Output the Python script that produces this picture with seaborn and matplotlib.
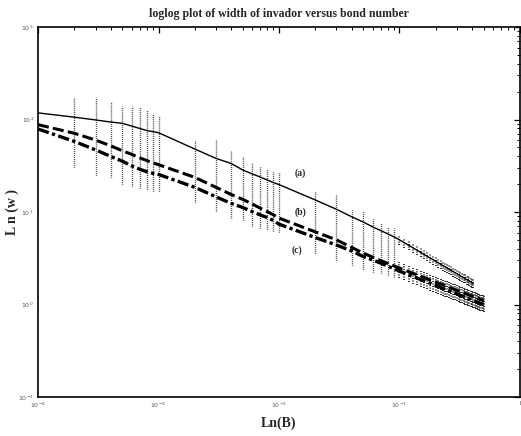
import numpy as np
import pandas as pd
import matplotlib
matplotlib.use('Agg')
import matplotlib.pyplot as plt
import seaborn as sns
from matplotlib.ticker import LogLocator, FixedLocator, FuncFormatter, NullFormatter

sns.set_style('white')
plt.rcParams['font.family'] = ['Liberation Serif', 'DejaVu Serif']

# bond numbers: sparse decades, then dense steps above 0.1
b_sparse = [1e-4, 2e-4, 3e-4, 4e-4, 5e-4, 6e-4, 7e-4, 8e-4, 9e-4,
            1e-3, 2e-3, 3e-3, 4e-3, 5e-3, 6e-3, 7e-3, 8e-3, 9e-3,
            1e-2, 2e-2, 3e-2, 4e-2, 5e-2, 6e-2, 7e-2, 8e-2, 9e-2]
b_dense = [0.10, 0.11, 0.12, 0.13, 0.14, 0.15, 0.16, 0.17, 0.18, 0.19,
           0.20, 0.21, 0.22, 0.23, 0.24, 0.25, 0.26, 0.27, 0.28, 0.29,
           0.30, 0.31, 0.32, 0.33, 0.34, 0.35, 0.36, 0.37, 0.38, 0.39,
           0.40, 0.41, 0.42, 0.43, 0.44, 0.45, 0.46, 0.47, 0.48, 0.49, 0.50]

# mean width of invader, curve (a) solid, (b) dashed, (c) dash-dot
w_a_sparse = [118, 106, 99, 94, 91, 85, 80, 76, 74,
              72, 48, 38, 33.5, 28.5, 25.8, 23.9, 22.2, 20.8,
              19.8, 13.5, 10.7, 8.9, 7.8, 6.9, 6.3, 5.8, 5.4]
w_a_dense = [5.00, 4.65, 4.35, 4.09, 3.86, 3.66, 3.48, 3.32, 3.18, 3.05,
             2.93, 2.82, 2.72, 2.63, 2.55, 2.47, 2.40, 2.33, 2.26, 2.20,
             2.15, 2.09, 2.04, 1.99, 1.95, 1.91, 1.86, 1.83, 1.79, 1.75,
             1.72, 1.69]
w_b_sparse = [88, 71, 60, 52, 46, 42, 38.5, 36, 34,
              32.5, 23.7, 18.5, 15.5, 13.7, 12.2, 11.0, 10.1, 9.3,
              8.6, 6.1, 5.0, 4.15, 3.6, 3.25, 2.98, 2.78, 2.62]
w_b_dense = [2.48, 2.36, 2.26, 2.17, 2.09, 2.02, 1.96, 1.90, 1.84, 1.79,
             1.75, 1.70, 1.67, 1.63, 1.59, 1.56, 1.53, 1.50, 1.47, 1.45,
             1.42, 1.40, 1.38, 1.36, 1.34, 1.32, 1.30, 1.28, 1.26, 1.25,
             1.23, 1.22, 1.20, 1.19, 1.17, 1.16, 1.15, 1.14, 1.12, 1.11, 1.10]
w_c_sparse = [79, 58, 47, 40, 35.5, 31.5, 29, 27.3, 26.2,
              25.5, 18.5, 14.6, 12.4, 11.2, 10.1, 9.3, 8.7, 8.1,
              7.4, 5.3, 4.4, 3.8, 3.3, 3.03, 2.8, 2.6, 2.44]
w_c_dense = [2.30, 2.19, 2.09, 2.01, 1.93, 1.86, 1.80, 1.75, 1.70, 1.65,
             1.61, 1.57, 1.53, 1.49, 1.46, 1.43, 1.40, 1.38, 1.35, 1.33,
             1.30, 1.28, 1.26, 1.24, 1.22, 1.20, 1.19, 1.17, 1.15, 1.14,
             1.12, 1.11, 1.09, 1.08, 1.07, 1.06, 1.04, 1.03, 1.02, 1.01, 1.00]

# spread of the individual runs (sparse region, from 2e-4 to 9e-2)
spread_hi = [171, 176, 156, 141, 141, 137, 127, 117,
             110, 60, 62, 46, 39, 35, 31.5, 28.5, 27,
             27, 16.6, 15.3, 10.5, 10.1, 8.5, 7.6, 6.9, 6.7]
spread_lo = [31, 25, 23.7, 20, 19, 18, 17.6, 17,
             16.8, 12.8, 10.3, 8.6, 8.2, 7.0, 6.7, 6.5, 6.2,
             6.1, 3.6, 3.0, 2.67, 2.45, 2.26, 2.17, 2.08, 2.0]

labels = ['(a)', '(b)', '(c)']
label_x = [0.0151, 0.0151, 0.0141]
label_y = [26.2, 10.07, 3.88]

b_all = b_sparse + b_dense
df_a = pd.DataFrame({'B': b_all[:len(w_a_sparse) + len(w_a_dense)], 'w': w_a_sparse + w_a_dense})
df_b = pd.DataFrame({'B': b_all, 'w': w_b_sparse + w_b_dense})
df_c = pd.DataFrame({'B': b_all, 'w': w_c_sparse + w_c_dense})

fig = plt.figure(figsize=(5.21, 4.36), dpi=100)
ax = fig.add_axes([0.073, 0.0894, 0.925, 0.8486])
ax.set_xscale('log')
ax.set_yscale('log')

# scattered runs as dotted vertical streaks
dot = (0, (0.5, 0.9))
ax.vlines(b_sparse[1:], spread_lo, spread_hi, colors='k', linewidth=1.0, linestyles=dot)
ax.vlines(b_dense[:len(w_a_dense)], np.array(w_a_dense) / 1.13, np.array(w_a_dense) * 1.13,
          colors='k', linewidth=1.3, linestyles=dot)
ax.vlines(b_dense, np.array(w_c_dense) / 1.2, np.array(w_b_dense) * 1.15,
          colors='k', linewidth=1.3, linestyles=dot)

sns.lineplot(df_a, x='B', y='w', ax=ax, color='k', linewidth=1.0)
sns.lineplot(df_b, x='B', y='w', ax=ax, color='k', linewidth=2.2)
ax.lines[-1].set_dashes((3.6, 1.4))
sns.lineplot(df_c, x='B', y='w', ax=ax, color='k', linewidth=2.4)
ax.lines[-1].set_dashes((3.4, 1.0, 1.0, 1.0))

for t, x, y in zip(labels, label_x, label_y):
    ax.text(x, y, t, fontsize=7, fontweight='bold', ha='center', va='center')

ax.set_xlim(1e-4, 1)
ax.set_ylim(1e-1, 1e3)
ax.xaxis.set_major_locator(FixedLocator([1e-4, 1e-3, 1e-2, 1e-1, 1]))
ax.yaxis.set_major_locator(FixedLocator([1e-1, 1, 1e1, 1e2, 1e3]))
ax.xaxis.set_minor_locator(LogLocator(base=10, subs=np.arange(2, 10)))
ax.yaxis.set_minor_locator(LogLocator(base=10, subs=np.arange(2, 10)))
fmt = FuncFormatter(lambda v, p: '$10^{%d}$' % round(np.log10(v)) if v != 1 else '1')
ax.xaxis.set_major_formatter(fmt)
ax.yaxis.set_major_formatter(FuncFormatter(lambda v, p: '$10^{%d}$' % round(np.log10(v))))
ax.xaxis.set_minor_formatter(NullFormatter())
ax.yaxis.set_minor_formatter(NullFormatter())
ax.tick_params(which='both', direction='in', top=True, right=True, color='k')
ax.tick_params(which='major', length=4, width=0.9, labelsize=4.5, labelcolor='#555555', pad=3)
ax.tick_params(which='minor', length=2.5, width=0.7)
for s in ax.spines.values():
    s.set_linewidth(1.2)
    s.set_color('k')

ax.set_title('loglog plot of width of invador versus bond number', fontsize=8.5, fontweight='bold', pad=7)
ax.set_xlabel('Ln(B)', fontsize=10, fontweight='bold', labelpad=4)
ax.set_ylabel('L n (w )', fontsize=10, fontweight='bold')
ax.yaxis.set_label_coords(-0.04, 0.5)

fig.savefig('out.png', dpi=100)
